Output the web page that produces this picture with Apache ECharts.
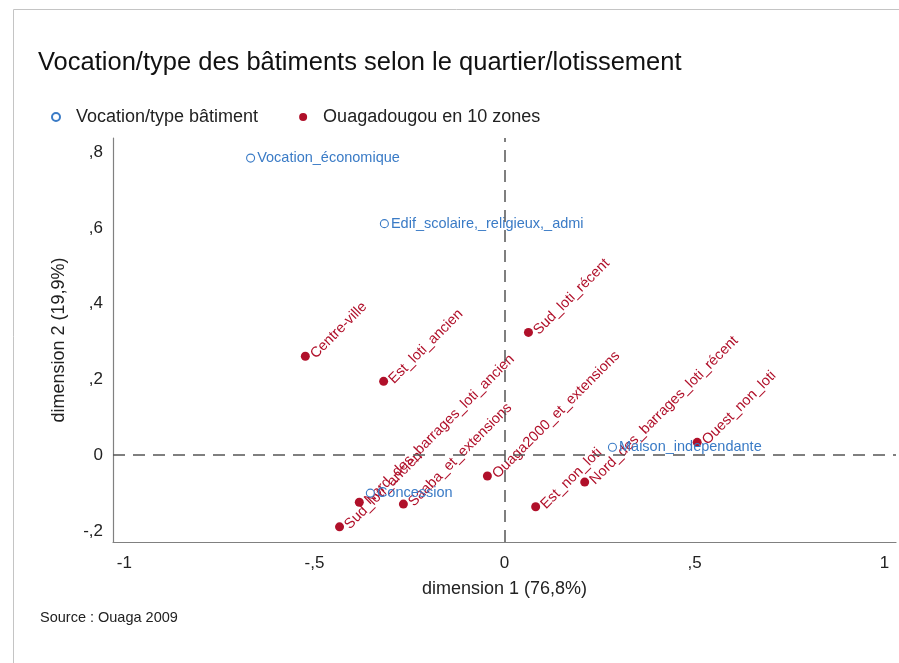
<!DOCTYPE html>
<html>
<head>
<meta charset="utf-8">
<script src="https://cdn.jsdelivr.net/npm/echarts@6/dist/echarts.min.js"></script>
<style>
  html, body { margin: 0; padding: 0; background: #fff; }
  #chart { width: 899px; height: 663px; }
</style>
</head>
<body>
<div id="chart"></div>
<script>
// modalités "Vocation/type bâtiment"
const typeNames = ['Vocation_économique', 'Edif_scolaire,_religieux,_admi', 'Maison_independante', 'Concession']
const typeDim1 = [-0.668, -0.316, 0.284, -0.353]
const typeDim2 = [0.784, 0.611, 0.021, -0.100]

// modalités "Ouagadougou en 10 zones"
const zoneNames = ['Centre-ville', 'Est_loti_ancien', 'Sud_loti_récent', 'Nord_des_barrages_loti_ancien',
  'Sud_loti_ancien', 'Saaba_et_extensions', 'Ouaga2000_et_extensions', 'Est_non_loti',
  'Nord_des_barrages_loti_récent', 'Ouest_non_loti']
const zoneDim1 = [-0.524, -0.318, 0.063, -0.382, -0.434, -0.266, -0.045, 0.082, 0.211, 0.507]
const zoneDim2 = [0.261, 0.195, 0.324, -0.124, -0.189, -0.129, -0.055, -0.136, -0.071, 0.034]

const xTicks = [-1, -0.5, 0, 0.5, 1]
const yTicks = [-0.2, 0, 0.2, 0.4, 0.6, 0.8]

const FONT = 'Liberation Sans'
const BLUE = '#3a7bc6'
const RED = '#b0102a'

// ,5 au lieu de 0.5 (format SPSS)
function fmt(v) {
  let s = String(Math.round(v * 10) / 10)
  return s.replace('0.', ',').replace('.', ',')
}

const chart = echarts.init(document.getElementById('chart'))

const typeData = typeNames.map((n, i) => ({ name: n, value: [typeDim1[i], typeDim2[i]] }))
const zoneData = zoneNames.map((n, i) => ({ name: n, value: [zoneDim1[i], zoneDim2[i]] }))

chart.setOption({
  animation: false,
  textStyle: { fontFamily: FONT },
  title: {
    text: 'Vocation/type des bâtiments selon le quartier/lotissement',
    left: 33, top: 45,
    textStyle: { fontSize: 25.5, fontWeight: 'normal', color: '#111', fontFamily: FONT }
  },
  legend: {
    left: 46, top: 103,
    itemWidth: 8, itemHeight: 8, itemGap: 41,
    icon: 'circle',
    textStyle: { fontSize: 18, color: '#222', fontFamily: FONT, padding: [0, 0, 0, 11] },
    data: ['Vocation/type bâtiment', 'Ouagadougou en 10 zones']
  },
  graphic: [
    {
      type: 'rect', silent: true,
      shape: { x: 13.5, y: 9.5, width: 1000, height: 1000 },
      style: { fill: 'none', stroke: '#c4c4c4', lineWidth: 1 }
    },
    {
      type: 'text', left: 40, top: 610,
      style: { text: 'Source : Ouaga 2009', fontSize: 14.5, fill: '#222', fontFamily: FONT }
    }
  ],
  grid: { left: 113, top: 138, right: 3, bottom: 121 },
  xAxis: {
    type: 'value', min: -1.03, max: 1.03,
    name: 'dimension 1 (76,8%)', nameLocation: 'middle', nameGap: 38,
    nameTextStyle: { fontSize: 18, color: '#222', fontFamily: FONT },
    axisLine: { onZero: false, lineStyle: { color: '#808080', width: 1.2 } },
    axisTick: { show: false },
    splitLine: { show: false },
    axisLabel: { customValues: xTicks, formatter: fmt, fontSize: 17, color: '#222', margin: 13 }
  },
  yAxis: {
    type: 'value', min: -0.229, max: 0.837,
    name: 'dimension 2 (19,9%)', nameLocation: 'middle', nameGap: 45,
    nameTextStyle: { fontSize: 18, color: '#222', fontFamily: FONT },
    axisLine: { show: true, onZero: false, lineStyle: { color: '#808080', width: 1.2 } },
    axisTick: { show: false },
    splitLine: { show: false },
    axisLabel: { customValues: yTicks, formatter: fmt, fontSize: 17, color: '#222', margin: 10 }
  },
  series: [
    {
      name: 'Vocation/type bâtiment',
      type: 'scatter',
      symbol: 'circle', symbolSize: 8,
      itemStyle: { color: '#fff', borderColor: BLUE, borderWidth: 1.1, opacity: 1 },
      label: {
        show: true, position: 'right', distance: 2,
        formatter: '{b}', fontSize: 14.5, color: BLUE, fontFamily: FONT
      },
      markLine: {
        silent: true, symbol: 'none', label: { show: false },
        lineStyle: { color: '#555', width: 1.5, type: [12, 8] },
        data: [{ xAxis: 0 }, { yAxis: 0 }]
      },
      data: typeData,
      z: 3
    },
    {
      name: 'Ouagadougou en 10 zones',
      type: 'scatter',
      symbol: 'circle', symbolSize: 9,
      itemStyle: { color: RED, opacity: 1 },
      label: {
        show: true, position: 'right', distance: 3, rotate: 45,
        formatter: '{b}', fontSize: 14.5, color: RED, fontFamily: FONT
      },
      data: zoneData,
      z: 2
    }
  ]
})
</script>
</body>
</html>
